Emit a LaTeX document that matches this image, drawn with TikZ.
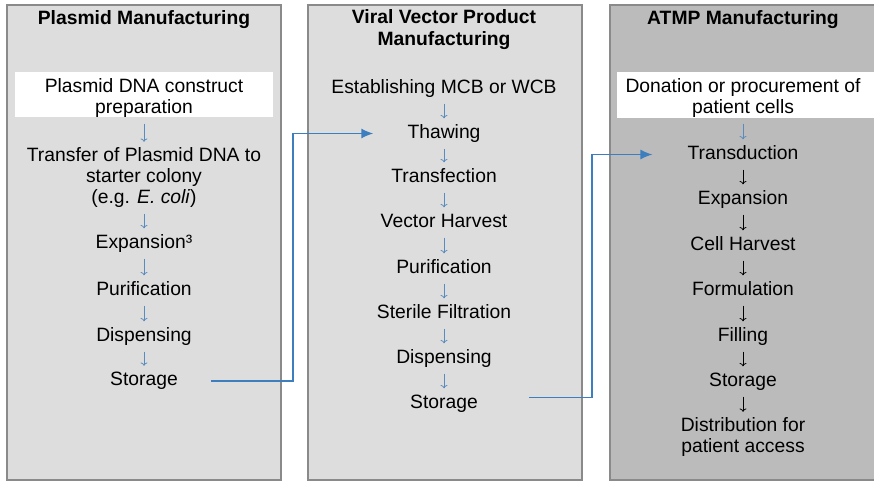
\documentclass[tikz,border=0pt]{standalone}
\usepackage{fontspec}
\setmainfont{Liberation Sans}
\usepackage{tikz}
\usetikzlibrary{arrows.meta}
\definecolor{panelgray}{HTML}{DDDDDD}
\definecolor{darkpanel}{HTML}{BBBBBB}
\definecolor{framegray}{HTML}{8A8A8A}
\definecolor{linkblue}{HTML}{3D7EBF}
\definecolor{stepblue}{HTML}{5A8BBF}
\tikzstyle{panel}=[draw=framegray, line width=1.5pt, fill=panelgray]
\tikzstyle{block}=[font=\fontsize{19.3}{21}\selectfont, align=center, inner sep=0pt]
\tikzstyle{head}=[block, font=\fontsize{19.3}{22}\selectfont\bfseries]
\tikzstyle{stage}=[block, text height=13.5pt, text depth=4.5pt]
\tikzstyle{flow}=[draw=stepblue, ->, line width=0.8pt, shorten <=6pt, shorten >=6pt]
\tikzstyle{flowk}=[flow, draw=black]
\tikzstyle{line}=[draw=linkblue, -{Latex[length=12pt,width=10pt]}, line width=1.4pt]

\begin{document}
\begin{tikzpicture}[x=1pt, y=-1pt]
	\useasboundingbox (0,0) rectangle (874,485);
	\draw[panel] (7,5) rectangle (281,480);
	\draw[panel] (308,5) rectangle (582,480);
	\draw[panel, fill=darkpanel] (610,5) rectangle (890,480);
	\fill[white] (15,72) rectangle (273,117);
	\fill[white] (617,72) rectangle (890,118);

	\node[head] (pmhead) at (144,20) {Plasmid Manufacturing};
	\node[block] (pm1) at (144,98) {Plasmid DNA construct\\preparation};
	\node[block] (pm2) at (144,178) {Transfer of Plasmid DNA to\\starter colony\\(e.g. \textit{E. coli})};
	\node[stage] (pm3) at (144,243.5) {Expansion³};
	\node[stage] (pm4) at (144,290.5) {Purification};
	\node[stage] (pm5) at (144,336.5) {Dispensing};
	\node[stage] (pm6) at (144,381) {Storage};
	\draw[flow] (pm1) -- (pm2);
	\draw[flow] (pm2) -- (pm3);
	\draw[flow] (pm3) -- (pm4);
	\draw[flow] (pm4) -- (pm5);
	\draw[flow] (pm5) -- (pm6);

	\node[head] (vvhead) at (444,30) {Viral Vector Product\\Manufacturing};
	\node[stage] (vv1) at (444,88.5) {Establishing MCB or WCB};
	\node[stage] (vv2) at (444,133.5) {Thawing};
	\node[stage] (vv3) at (444,177.5) {Transfection};
	\node[stage] (vv4) at (444,222.5) {Vector Harvest};
	\node[stage] (vv5) at (444,268.5) {Purification};
	\node[stage] (vv6) at (444,313.5) {Sterile Filtration};
	\node[stage] (vv7) at (444,358.5) {Dispensing};
	\node[stage] (vv8) at (444,403.5) {Storage};
	\draw[flow] (vv1) -- (vv2);
	\draw[flow] (vv2) -- (vv3);
	\draw[flow] (vv3) -- (vv4);
	\draw[flow] (vv4) -- (vv5);
	\draw[flow] (vv5) -- (vv6);
	\draw[flow] (vv6) -- (vv7);
	\draw[flow] (vv7) -- (vv8);

	\node[head] (athead) at (743,20) {ATMP Manufacturing};
	\node[block] (at1) at (743,98) {Donation or procurement of\\patient cells};
	\node[stage] (at2) at (743,154.5) {Transduction};
	\node[stage] (at3) at (743,199.5) {Expansion};
	\node[stage] (at4) at (743,245.5) {Cell Harvest};
	\node[stage] (at5) at (743,290.5) {Formulation};
	\node[stage] (at6) at (743,336.5) {Filling};
	\node[stage] (at7) at (743,381.5) {Storage};
	\node[block] (at8) at (743,437.5) {Distribution for\\patient access};
	\draw[flow] (at1) -- (at2);
	\draw[flowk] (at2) -- (at3);
	\draw[flowk] (at3) -- (at4);
	\draw[flowk] (at4) -- (at5);
	\draw[flowk] (at5) -- (at6);
	\draw[flowk] (at6) -- (at7);
	\draw[flowk] (at7) -- (at8);

	\draw[line] ([xshift=33pt]pm6.east) -| (293,133.5) -- ([xshift=-34pt]vv2.west);
	\draw[line] ([xshift=51pt,yshift=6pt]vv8.east) -| (592,154.5) -- ([xshift=-35pt]at2.west);
\end{tikzpicture}
\end{document}
